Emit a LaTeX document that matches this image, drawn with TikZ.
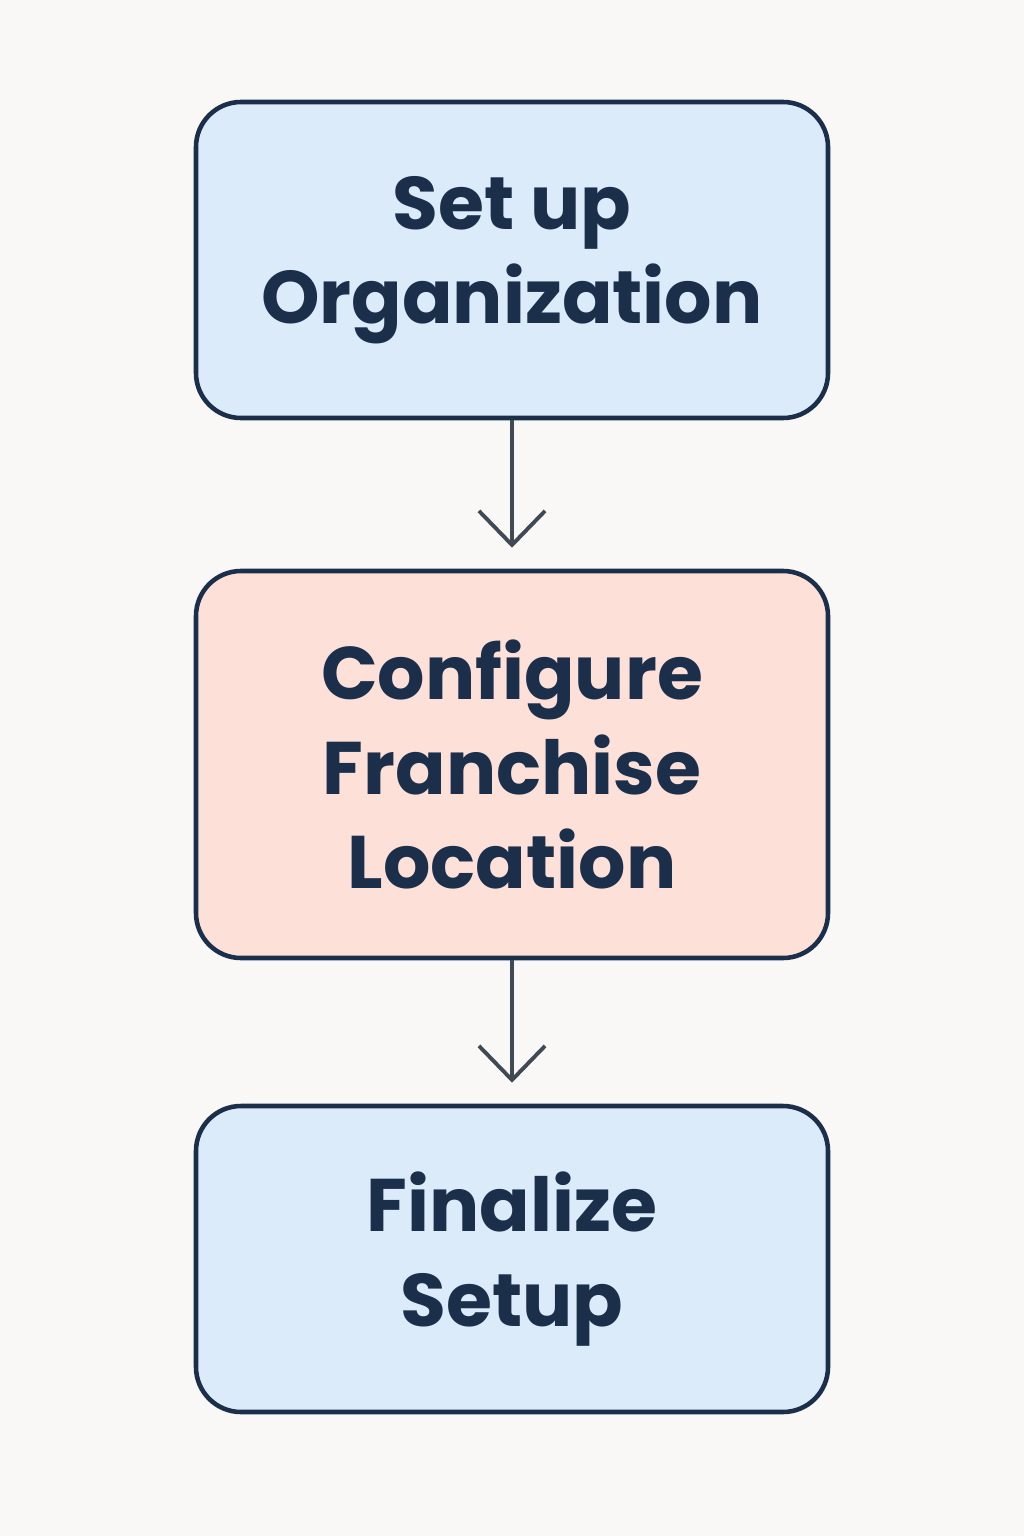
\documentclass[tikz,border=0pt]{standalone}
\usepackage{fontspec}
\setmainfont{Poppins}
\usetikzlibrary{arrows.meta}
\definecolor{pagebg}{HTML}{F9F8F7}
\definecolor{boxblue}{HTML}{DBEBFA}
\definecolor{boxpink}{HTML}{FDE1D8}
\definecolor{navy}{HTML}{1B2F4B}
\definecolor{arrowgray}{HTML}{3F4A55}
\begin{document}
\begin{tikzpicture}[x=1cm,y=1cm,
  stepbox/.style={draw=navy, line width=1.3pt, rounded corners=0.45cm,
    minimum width=6.32cm, align=center, text=navy,
    font=\fontsize{21.2}{26.8}\selectfont\bfseries},
  flow/.style={draw=arrowgray, line width=1.1pt,
    -{Straight Barb[length=3.4mm,width=6.6mm,line width=1.1pt]}, shorten >=0.21cm}]
\fill[pagebg] (0,0) rectangle (10.24,-15.36);
\useasboundingbox (0,0) rectangle (10.24,-15.36);
\node[stepbox, fill=boxblue, minimum height=3.16cm] (org) at (5.12,-2.60)
{Set up\\Organization};
\node[stepbox, fill=boxpink, minimum height=3.87cm] (loc) at (5.12,-7.645)
{Configure\\Franchise\\Location};
\node[stepbox, fill=boxblue, minimum height=3.06cm] (fin) at (5.12,-12.59)
{Finalize\\Setup};
\draw[flow] (org) -- (loc);
\draw[flow] (loc) -- (fin);
\end{tikzpicture}
\end{document}
